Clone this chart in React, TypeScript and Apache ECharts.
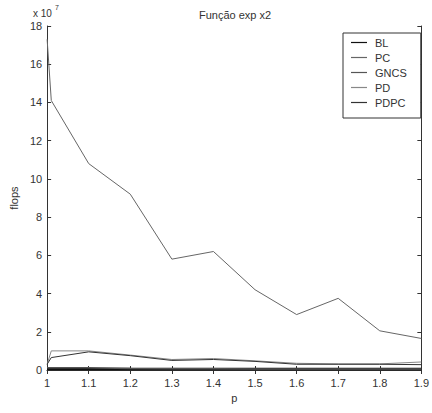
import React, { useEffect, useRef } from "react";
import * as echarts from "echarts";

// p values (x axis)
const pValues = [1, 1.01, 1.1, 1.2, 1.3, 1.4, 1.5, 1.6, 1.7, 1.8, 1.9];
// flops, in units of 10^7
const blFlops = [0.05, 0.05, 0.05, 0.05, 0.05, 0.05, 0.05, 0.05, 0.05, 0.05, 0.05];
const pcFlops = [17.3, 14.1, 10.8, 9.2, 5.8, 6.2, 4.2, 2.9, 3.75, 2.05, 1.65];
const gncsFlops = [0.12, 0.12, 0.12, 0.08, 0.06, 0.06, 0.05, 0.05, 0.05, 0.05, 0.05];
const pdFlops = [0.3, 1.0, 1.0, 0.78, 0.55, 0.6, 0.48, 0.35, 0.32, 0.32, 0.42];
const pdpcFlops = [0.3, 0.65, 0.95, 0.75, 0.5, 0.55, 0.45, 0.3, 0.3, 0.3, 0.28];

const seriesNames = ["BL", "PC", "GNCS", "PD", "PDPC"];
const xTickLabels = ["1", "1.1", "1.2", "1.3", "1.4", "1.5", "1.6", "1.7", "1.8", "1.9"];

const FONT = "Liberation Sans";

export default function App() {
  const ref = useRef<HTMLDivElement>(null);
  useEffect(() => {
    if (!ref.current) return;
    const chart = echarts.init(ref.current, null, { renderer: "svg" });
    const pair = (ys: number[]) => pValues.map((x, i) => [x, ys[i]]);
    const axisLine = { show: true, lineStyle: { color: "#333", width: 1 } };
    const tick = { show: true, inside: true, length: 4, lineStyle: { color: "#333" } };
    const lab = { fontFamily: FONT, fontSize: 11, color: "#333" };
    chart.setOption({
      animation: false,
      backgroundColor: "#fff",
      title: {
        text: "Função exp x2",
        left: 230,
        top: 4,
        textAlign: "center",
        textStyle: { fontFamily: FONT, fontSize: 11, fontWeight: "normal", color: "#333" },
      },
      graphic: [
        { type: "text", left: 33, top: 8, style: { text: "x 10", fontFamily: FONT, fontSize: 10, fill: "#333" } },
        { type: "text", left: 55, top: 4, style: { text: "7", fontFamily: FONT, fontSize: 7, fill: "#333" } },
      ],
      legend: {
        orient: "vertical",
        left: 343,
        top: 33,
        data: seriesNames.map((n) => ({ name: n, icon: "rect", itemStyle: { borderWidth: 0 }, lineStyle: { width: 1 } })),
        itemWidth: 16,
        itemHeight: 1.2,
        itemGap: 4,
        padding: [4, 14, 10, 8],
        borderColor: "#333",
        borderWidth: 1,
        backgroundColor: "#fff",
        textStyle: { fontFamily: FONT, fontSize: 11, color: "#333", lineHeight: 11, padding: [0, 0, 0, 3] },
      },
      grid: { left: 33, right: 5, top: 26, bottom: 43 },
      xAxis: [
        {
          type: "value",
          min: 1,
          max: 1.9,
          interval: 0.1,
          name: "p",
          nameLocation: "middle",
          nameGap: 20,
          nameTextStyle: lab,
          axisLine,
          axisTick: tick,
          splitLine: { show: false },
          axisLabel: {
            ...lab,
            margin: 7,
            formatter: (v: number) => {
              const i = Math.round((v - 1) * 10);
              return xTickLabels[i] ?? "";
            },
          },
        },
        {
          type: "value",
          position: "top",
          min: 1,
          max: 1.9,
          interval: 0.1,
          axisLine,
          axisTick: tick,
          splitLine: { show: false },
          axisLabel: { show: false },
        },
      ],
      yAxis: [
        {
          type: "value",
          min: 0,
          max: 18,
          interval: 2,
          name: "flops",
          nameLocation: "middle",
          nameGap: 19,
          nameTextStyle: lab,
          axisLine,
          axisTick: tick,
          splitLine: { show: false },
          axisLabel: { ...lab, margin: 5 },
        },
        {
          type: "value",
          position: "right",
          min: 0,
          max: 18,
          interval: 2,
          axisLine,
          axisTick: tick,
          splitLine: { show: false },
          axisLabel: { show: false },
        },
      ],
      series: [
        { name: "BL", type: "line", data: pair(blFlops), showSymbol: false, symbol: "none", lineStyle: { color: "#111", width: 2.5 }, itemStyle: { color: "#111" } },
        { name: "PC", type: "line", data: pair(pcFlops), showSymbol: false, symbol: "none", lineStyle: { color: "#666", width: 1 }, itemStyle: { color: "#666" } },
        { name: "GNCS", type: "line", data: pair(gncsFlops), showSymbol: false, symbol: "none", lineStyle: { color: "#555", width: 1.5 }, itemStyle: { color: "#555" } },
        { name: "PD", type: "line", data: pair(pdFlops), showSymbol: false, symbol: "none", lineStyle: { color: "#888", width: 1 }, itemStyle: { color: "#888" } },
        { name: "PDPC", type: "line", data: pair(pdpcFlops), showSymbol: false, symbol: "none", lineStyle: { color: "#333", width: 1 }, itemStyle: { color: "#333" } },
      ],
    });
    return () => chart.dispose();
  }, []);
  return <div ref={ref} style={{ width: 432, height: 413, position: "absolute", left: 0, top: 0 }} />;
}
